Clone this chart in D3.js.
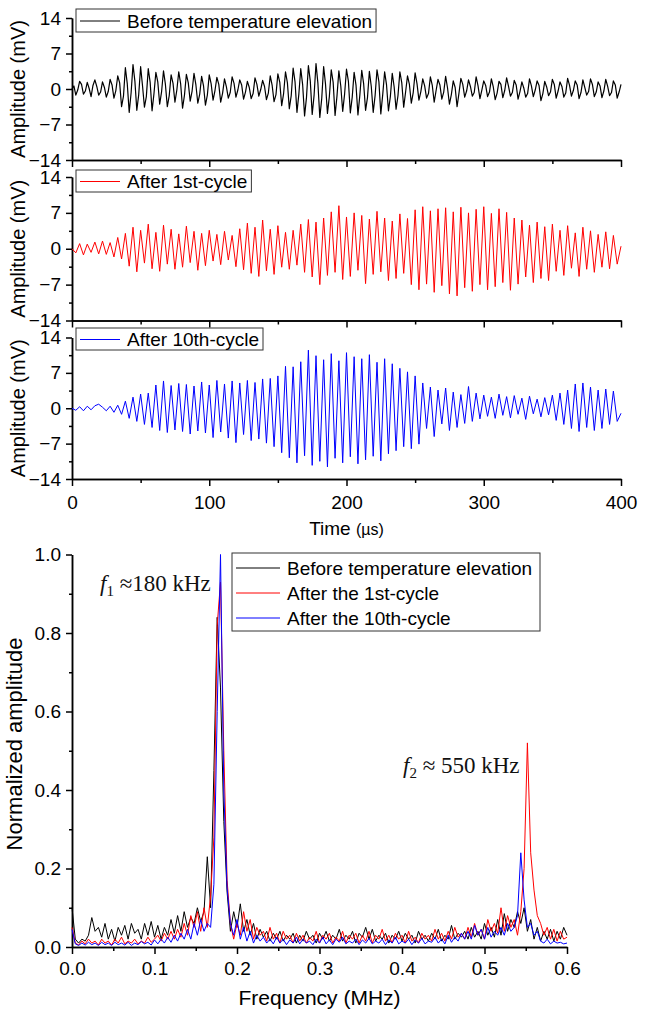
<!DOCTYPE html>
<html><head><meta charset="utf-8">
<script src="https://cdn.jsdelivr.net/npm/d3@7/dist/d3.min.js"></script>
<style>
body{margin:0;background:#fff;}
svg{display:block;}
</style>
</head><body><svg id="c" width="652" height="1016"></svg>
<script>
// ---------- DATA ----------
const beforeStep = 1.3889;          // µs between samples of the first trace
const afterStep = 2.7778;           // µs between samples of the other traces
const timeTicks = [0, 100, 200, 300, 400];
const timeMinor = [50, 150, 250, 350];
const ampTicks = [-14, -7, 0, 7, 14];
const ampMinor = [-10.5, -3.5, 3.5, 10.5];
const seriesNames = ["Before temperature elevation", "After 1st-cycle", "After 10th-cycle"];
const specNames = ["Before temperature elevation", "After the 1st-cycle", "After the 10th-cycle"];

const beforeSignal = [
 0, 0.6, -1.2, -0.2, 1.5, 0.9, -1.0, -0.4, 1.3, 0.1, -1.5, 0.7, 1.8, 0.5, -1.2, -0.6, 1.4, 0.3, -1.6, -0.5,
 1.9, 0.8, -1.8, -0.3, 2.6, 1.2, -3.5, -1.4, 4.2, 1.0, -4.6, -0.8, 4.8, 1.5, -4.2, -1.1, 4.4, 0.6, -3.6, -1.5,
 4.0, 1.3, -4.3, -0.9, 3.3, 1.4, -3.0, -0.5, 3.6, 0.9, -3.5, -1.3, 2.8, 1.1, -2.6, -0.2, 3.4, 1.0, -3.8, -1.2,
 2.9, 1.2, -2.4, -0.4, 3.1, 0.8, -2.8, -1.0, 2.5, 0.6, -3.2, -1.2, 2.8, 1.0, -2.2, -0.3, 2.3, 0.9, -2.6, -0.8,
 2.0, 0.4, -1.8, -0.7, 2.4, 1.1, -1.6, -0.2, 1.8, 0.8, -2.0, -0.6, 1.5, 0.3, -1.9, -0.9, 2.2, 0.9, -1.4, -0.1,
 1.7, 0.5, -2.1, -0.8, 2.6, 0.7, -2.5, -1.1, 3.0, 1.3, -3.3, -0.9, 3.4, 1.2, -3.9, -1.3, 4.1, 1.4, -4.6, -1.0,
 4.0, 0.8, -5.3, -1.7, 4.6, 1.6, -5.0, -1.2, 5.0, 1.1, -5.6, -1.9, 4.4, 0.9, -4.8, -1.5, 3.8, 1.3, -5.2, -1.4,
 3.6, 0.6, -4.4, -1.0, 3.9, 1.5, -4.7, -1.6, 3.3, 0.7, -5.1, -1.2, 3.7, 1.0, -4.2, -1.7, 3.5, 0.5, -4.6, -1.3,
 3.8, 1.4, -4.9, -1.1, 3.4, 0.8, -4.3, -1.5, 3.1, 0.4, -4.0, -1.3, 3.4, 1.2, -3.6, -0.6, 2.6, 0.9, -2.8, -0.7,
 3.2, 1.0, -2.2, -0.5, 2.0, 0.6, -1.8, -0.9, 2.4, 0.7, -2.6, -0.3, 1.9, 0.8, -2.0, -0.6, 2.5, 0.2, -3.0, -1.1,
 1.6, 0.3, -3.5, -0.8, 2.1, 0.9, -1.6, -0.4, 1.8, 0.5, -1.4, -0.7, 2.4, 0.6, -1.9, -0.2, 1.6, 0.7, -1.5, -0.6,
 2.0, 0.4, -2.1, -0.8, 1.5, 0.9, -1.7, -0.3, 2.2, 0.5, -1.4, -0.7, 1.7, 0.8, -2.0, -0.5, 1.4, 0.2, -1.6, -0.9,
 2.0, 0.6, -1.5, -0.2, 1.6, 0.7, -2.3, -0.9, 1.5, 0.4, -1.3, -0.6, 1.9, 0.9, -1.8, -0.4, 1.4, 0.5, -1.6, -0.8,
 2.1, 0.7, -1.4, -0.3, 1.6, 0.8, -1.9, -0.7, 1.8, 0.3, -1.2, -0.5, 2.0, 0.9, -1.5, -0.6, 1.4, 0.6, -1.7, -0.4,
 1.9, 0.5, -1.3, -0.7, 1.6, 0.8, -1.8, -0.6, 0.9
];
const after1Signal = [
 0, -0.8, 1.0, -1.2, 0.9, -0.7, 1.3, -1.0, 1.5, -1.1,
 1.2, -1.6, 2.2, -2.0, 3.0, -3.4, 4.2, -4.5, 3.6, -2.8,
 4.8, -3.9, 3.2, -4.4, 4.6, -3.0, 3.8, -4.0, 2.9, -3.6,
 4.4, -2.7, 3.4, -4.2, 3.0, -3.3, 3.6, -2.4, 2.8, -3.1,
 3.4, -2.2, 2.6, -3.5, 3.9, -4.1, 5.0, -4.8, 4.2, -5.4,
 5.6, -4.3, 3.8, -5.0, 4.5, -3.6, 3.2, -4.0, 3.6, -3.2,
 4.8, -4.6, 5.7, -5.5, 5.2, -7.0, 6.0, -5.2, 7.2, -4.6,
 8.4, -6.0, 6.2, -5.4, 7.0, -4.2, 6.5, -6.8, 5.8, -5.0,
 7.3, -4.5, 6.0, -6.2, 5.4, -5.8, 6.8, -4.8, 5.9, -7.0,
 7.6, -8.0, 8.2, -6.9, 7.4, -8.5, 7.8, -7.2, 8.0, -8.8,
 7.2, -9.2, 8.1, -7.6, 7.0, -8.3, 7.7, -7.0, 8.2, -8.0,
 6.9, -7.4, 7.8, -6.6, 7.1, -8.1, 6.0, -6.9, 5.6, -5.5,
 4.6, -6.6, 5.2, -5.8, 4.3, -6.2, 4.8, -4.4, 3.6, -5.2,
 4.5, -3.8, 3.1, -5.4, 4.2, -4.0, 3.5, -4.6, 2.8, -3.6,
 3.3, -3.9, 2.6, -3.0, 0.5
];
const after10Signal = [
 0, -0.4, 0.3, -0.5, 0.4, -0.3, 0.5, 0.8, 0.2, -0.5,
 0.4, -0.8, 0.6, -1.2, 1.4, -2.0, 2.2, -2.6, 2.8, -3.2,
 3.0, -3.8, 4.6, -4.4, 5.4, -4.8, 4.5, -4.3, 4.9, -4.6,
 4.7, -5.1, 4.4, -4.5, 5.2, -4.9, 4.6, -5.8, 5.5, -4.7,
 4.8, -5.9, 5.4, -6.8, 5.0, -5.2, 5.5, -6.4, 5.1, -6.1,
 5.8, -6.9, 5.9, -7.6, 6.4, -8.8, 8.3, -9.8, 8.2, -10.8,
 9.2, -9.4, 11.5, -11.3, 10.4, -10.5, 9.6, -11.6, 10.8, -9.9,
 9.4, -10.8, 11.0, -9.6, 10.2, -11.0, 9.8, -10.2, 10.6, -9.5,
 9.1, -10.4, 9.8, -9.0, 8.8, -8.4, 7.9, -7.6, 7.2, -8.0,
 6.4, -7.1, 5.0, -4.0, 4.2, -5.6, 3.6, -3.1, 4.0, -4.4,
 3.2, -3.8, 2.7, -3.0, 4.3, -2.6, 3.0, -2.1, 2.6, -1.6,
 2.2, -2.0, 2.8, -1.4, 2.3, -1.9, 2.5, -1.2, 2.0, -2.2,
 2.4, -1.1, 1.8, -1.7, 2.1, -1.3, 2.6, -2.4, 3.0, -3.2,
 3.6, -4.0, 4.8, -4.6, 5.0, -3.8, 4.2, -4.4, 3.6, -4.0,
 3.8, -3.2, 3.4, -2.6, -1.0
];

const freqStep = 0.004;             // MHz between spectrum samples
const freqTicks = [0, 0.1, 0.2, 0.3, 0.4, 0.5, 0.6];
const freqMinor = [0.05, 0.15, 0.25, 0.35, 0.45, 0.55];
const normTicks = [0, 0.2, 0.4, 0.6, 0.8, 1.0];
const normMinor = [0.1, 0.3, 0.5, 0.7, 0.9];

const specBefore = [
 0.10, 0.02, 0.01, 0.02, 0.015, 0.03, 0.075, 0.04, 0.05, 0.025,
 0.06, 0.02, 0.045, 0.015, 0.05, 0.03, 0.055, 0.02, 0.06, 0.035,
 0.045, 0.02, 0.06, 0.03, 0.065, 0.025, 0.055, 0.02, 0.05, 0.03,
 0.07, 0.035, 0.08, 0.04, 0.09, 0.05, 0.075, 0.06, 0.1, 0.065,
 0.09, 0.23, 0.1, 0.45, 0.84, 0.66, 0.32, 0.14, 0.04, 0.09,
 0.05, 0.11, 0.04, 0.07, 0.03, 0.06, 0.02, 0.045, 0.025, 0.04,
 0.015, 0.035, 0.02, 0.04, 0.015, 0.03, 0.02, 0.035, 0.01, 0.03,
 0.015, 0.04, 0.02, 0.03, 0.01, 0.035, 0.02, 0.04, 0.015, 0.03,
 0.02, 0.045, 0.015, 0.03, 0.02, 0.04, 0.01, 0.035, 0.025, 0.05,
 0.02, 0.045, 0.015, 0.03, 0.02, 0.035, 0.01, 0.03, 0.02, 0.04,
 0.015, 0.035, 0.02, 0.03, 0.01, 0.04, 0.02, 0.03, 0.015, 0.035,
 0.02, 0.045, 0.015, 0.03, 0.02, 0.055, 0.02, 0.035, 0.025, 0.04,
 0.02, 0.05, 0.025, 0.04, 0.02, 0.06, 0.03, 0.05, 0.025, 0.07,
 0.03, 0.085, 0.04, 0.07, 0.05, 0.09, 0.06, 0.1, 0.04, 0.07,
 0.02, 0.05, 0.015, 0.04, 0.02, 0.045, 0.015, 0.04, 0.02, 0.05,
 0.03
];
const specAfter1 = [
 0.05, 0.01, 0.005, 0.015, 0.008, 0.02, 0.01, 0.015, 0.005, 0.02,
 0.01, 0.015, 0.005, 0.02, 0.01, 0.025, 0.008, 0.015, 0.01, 0.02,
 0.008, 0.015, 0.01, 0.025, 0.012, 0.02, 0.03, 0.015, 0.035, 0.02,
 0.04, 0.02, 0.045, 0.025, 0.06, 0.03, 0.08, 0.05, 0.09, 0.04,
 0.1, 0.05, 0.13, 0.28, 0.82, 0.93, 0.5, 0.17, 0.06, 0.02,
 0.06, 0.03, 0.09, 0.04, 0.07, 0.02, 0.05, 0.03, 0.04, 0.015,
 0.05, 0.02, 0.035, 0.01, 0.04, 0.02, 0.03, 0.01, 0.035, 0.015,
 0.03, 0.01, 0.025, 0.015, 0.04, 0.01, 0.03, 0.02, 0.035, 0.01,
 0.025, 0.015, 0.04, 0.01, 0.03, 0.02, 0.035, 0.01, 0.03, 0.015,
 0.04, 0.01, 0.03, 0.02, 0.045, 0.015, 0.03, 0.01, 0.035, 0.02,
 0.03, 0.01, 0.04, 0.015, 0.025, 0.01, 0.035, 0.02, 0.03, 0.015,
 0.045, 0.02, 0.035, 0.015, 0.04, 0.02, 0.05, 0.025, 0.035, 0.02,
 0.05, 0.025, 0.06, 0.03, 0.045, 0.02, 0.07, 0.04, 0.06, 0.035,
 0.1, 0.04, 0.08, 0.05, 0.07, 0.03, 0.09, 0.2, 0.52, 0.24,
 0.145, 0.08, 0.06, 0.03, 0.05, 0.02, 0.045, 0.015, 0.04, 0.02,
 0.025
];
const specAfter10 = [
 0.045, 0.008, 0.004, 0.01, 0.005, 0.012, 0.006, 0.01, 0.004, 0.012,
 0.006, 0.01, 0.004, 0.012, 0.006, 0.01, 0.005, 0.012, 0.004, 0.01,
 0.006, 0.014, 0.008, 0.012, 0.005, 0.018, 0.008, 0.02, 0.01, 0.025,
 0.012, 0.03, 0.015, 0.035, 0.02, 0.045, 0.02, 0.06, 0.03, 0.07,
 0.04, 0.06, 0.05, 0.16, 0.6, 1.0, 0.4, 0.15, 0.06, 0.03,
 0.07, 0.02, 0.05, 0.015, 0.04, 0.01, 0.03, 0.015, 0.025, 0.01,
 0.02, 0.008, 0.025, 0.01, 0.02, 0.006, 0.018, 0.01, 0.025, 0.008,
 0.02, 0.01, 0.015, 0.006, 0.02, 0.01, 0.025, 0.008, 0.018, 0.006,
 0.02, 0.012, 0.025, 0.008, 0.015, 0.01, 0.02, 0.006, 0.018, 0.01,
 0.022, 0.008, 0.015, 0.01, 0.02, 0.006, 0.018, 0.01, 0.025, 0.008,
 0.015, 0.01, 0.02, 0.006, 0.018, 0.01, 0.022, 0.008, 0.015, 0.012,
 0.025, 0.01, 0.02, 0.008, 0.03, 0.012, 0.025, 0.015, 0.035, 0.02,
 0.04, 0.02, 0.055, 0.03, 0.045, 0.02, 0.05, 0.025, 0.04, 0.03,
 0.05, 0.03, 0.06, 0.04, 0.05, 0.08, 0.24, 0.12, 0.05, 0.06,
 0.03, 0.04, 0.015, 0.01, 0.02, 0.008, 0.015, 0.01, 0.012, 0.008,
 0.01
];

// ---------- DRAWING ----------
const FONT = "Arial, 'Liberation Sans', sans-serif";
const SERIF = "'Liberation Serif', 'Times New Roman', serif";
const colors = ["#000000", "#ff0000", "#0000ff"];
const TICKFS = 19;
const svg = d3.select("#c");

function styleAxis(g) {
  g.attr("font-family", FONT).attr("font-size", TICKFS);
  g.select(".domain").attr("stroke", "#000").attr("stroke-width", 1.5);
  g.selectAll(".tick line").attr("stroke", "#000").attr("stroke-width", 1.5);
  g.selectAll(".tick text").attr("fill", "#000");
}

// Top: three time-domain panels
const xT = d3.scaleLinear().domain([0, 400]).range([72, 621]);
const panelLayout = [
  {top: 18, bottom: 160, legTop: 9, legH: 23, sw: 1.2},
  {top: 177, bottom: 320.5, legTop: 170, legH: 22, sw: 1},
  {top: 337.5, bottom: 479, legTop: 328, legH: 22, sw: 1}
];
const signals = [beforeSignal, after1Signal, after10Signal];
const steps = [beforeStep, afterStep, afterStep];

panelLayout.forEach((p, k) => {
  const y = d3.scaleLinear().domain([-14, 14]).range([p.bottom, p.top]);
  const g = svg.append("g");
  g.append("g").attr("transform", "translate(72,0)")
    .call(d3.axisLeft(y).tickValues(ampTicks).tickSize(6).tickPadding(5).tickSizeOuter(0).tickFormat(d3.format("d")))
    .call(styleAxis);
  g.append("g").attr("transform", "translate(72,0)")
    .call(d3.axisLeft(y).tickValues(ampMinor).tickSize(3).tickFormat("").tickSizeOuter(0))
    .call(styleAxis);
  const last = k === 2;
  g.append("g").attr("transform", `translate(0,${p.bottom})`)
    .call(d3.axisBottom(xT).tickValues(timeTicks).tickSize(7).tickPadding(9.5).tickSizeOuter(0)
      .tickFormat(last ? d3.format("d") : ""))
    .call(styleAxis);
  g.append("g").attr("transform", `translate(0,${p.bottom})`)
    .call(d3.axisBottom(xT).tickValues(timeMinor).tickSize(4).tickFormat("").tickSizeOuter(0))
    .call(styleAxis);
  g.append("text").attr("transform", `translate(25,${(p.top + p.bottom) / 2}) rotate(-90)`)
    .attr("text-anchor", "middle").attr("font-family", FONT).attr("font-size", 20)
    .text("Amplitude (mV)");
  const st = steps[k];
  const line = d3.line().x((d, i) => xT(i * st)).y(d => y(d));
  g.append("path").datum(signals[k]).attr("d", line).attr("fill", "none")
    .attr("stroke", colors[k]).attr("stroke-width", p.sw).attr("stroke-linejoin", "round");
  const lg = g.append("g");
  const rect = lg.append("rect").attr("x", 76).attr("y", p.legTop).attr("height", p.legH)
    .attr("fill", "#fff").attr("stroke", "#333").attr("stroke-width", 1);
  const cy = p.legTop + p.legH / 2 + 0.5;
  lg.append("line").attr("x1", 80).attr("x2", 120).attr("y1", cy).attr("y2", cy)
    .attr("stroke", colors[k]).attr("stroke-width", 1);
  const t = lg.append("text").attr("x", 127).attr("y", cy + 6.5).attr("font-family", FONT)
    .attr("font-size", 19).text(seriesNames[k]);
  const w = t.node().getComputedTextLength();
  rect.attr("width", 127 + w + 4 - 76);
});

const tt = svg.append("text").attr("x", 346.5).attr("y", 535).attr("text-anchor", "middle")
  .attr("font-family", FONT).attr("font-size", 19);
tt.append("tspan").text("Time ");
tt.append("tspan").attr("font-size", 16).text("(\u00b5s)");

// Bottom: spectrum
const xF = d3.scaleLinear().domain([0, 0.6]).range([72, 567]);
const yN = d3.scaleLinear().domain([0, 1]).range([947, 554.5]);
const gs = svg.append("g");

gs.append("g").attr("transform", "translate(72,0)")
  .call(d3.axisLeft(yN).tickValues(normTicks).tickSize(6).tickPadding(5).tickSizeOuter(0).tickFormat(d3.format(".1f")))
  .call(styleAxis);
gs.append("g").attr("transform", "translate(72,0)")
  .call(d3.axisLeft(yN).tickValues(normMinor).tickSize(3).tickFormat("").tickSizeOuter(0))
  .call(styleAxis);
gs.append("g").attr("transform", "translate(0,947)")
  .call(d3.axisBottom(xF).tickValues(freqTicks).tickSize(7).tickPadding(7.5).tickSizeOuter(0).tickFormat(d3.format(".1f")))
  .call(styleAxis);
gs.append("g").attr("transform", "translate(0,947)")
  .call(d3.axisBottom(xF).tickValues(freqMinor).tickSize(4).tickFormat("").tickSizeOuter(0))
  .call(styleAxis);

gs.append("text").attr("x", 319.5).attr("y", 1005).attr("text-anchor", "middle")
  .attr("font-family", FONT).attr("font-size", 21).text("Frequency (MHz)");
gs.append("text").attr("transform", "translate(22,744) rotate(-90)").attr("text-anchor", "middle")
  .attr("font-family", FONT).attr("font-size", 22).text("Normalized amplitude");

function annot(x, y, sub, rest) {
  const t = gs.append("text").attr("x", x).attr("y", y).attr("font-family", SERIF).attr("font-size", 23).attr("fill", "#111");
  t.append("tspan").attr("font-style", "italic").text("f");
  t.append("tspan").attr("font-size", 15).attr("dy", 5).text(sub);
  t.append("tspan").attr("dy", -5).text(rest);
}
annot(100, 591, "1", " \u2248180 kHz");
annot(403, 773, "2", " \u2248 550 kHz");

const specs = [specBefore, specAfter1, specAfter10];
const sline = d3.line().x((d, i) => xF(i * freqStep)).y(d => yN(d));
specs.forEach((s, k) => {
  gs.append("path").datum(s).attr("d", sline).attr("fill", "none")
    .attr("stroke", colors[k]).attr("stroke-width", 1).attr("stroke-linejoin", "round");
});

const lg2 = gs.append("g");
lg2.append("rect").attr("x", 232).attr("y", 553).attr("width", 308).attr("height", 78)
  .attr("fill", "#fff").attr("stroke", "#333").attr("stroke-width", 1);
specNames.forEach((n, k) => {
  const cy = 568 + k * 25;
  lg2.append("line").attr("x1", 236).attr("x2", 280).attr("y1", cy).attr("y2", cy)
    .attr("stroke", colors[k]).attr("stroke-width", 1);
  lg2.append("text").attr("x", 287).attr("y", cy + 6.5).attr("font-family", FONT)
    .attr("font-size", 19).text(n);
});
</script>
</body></html>
